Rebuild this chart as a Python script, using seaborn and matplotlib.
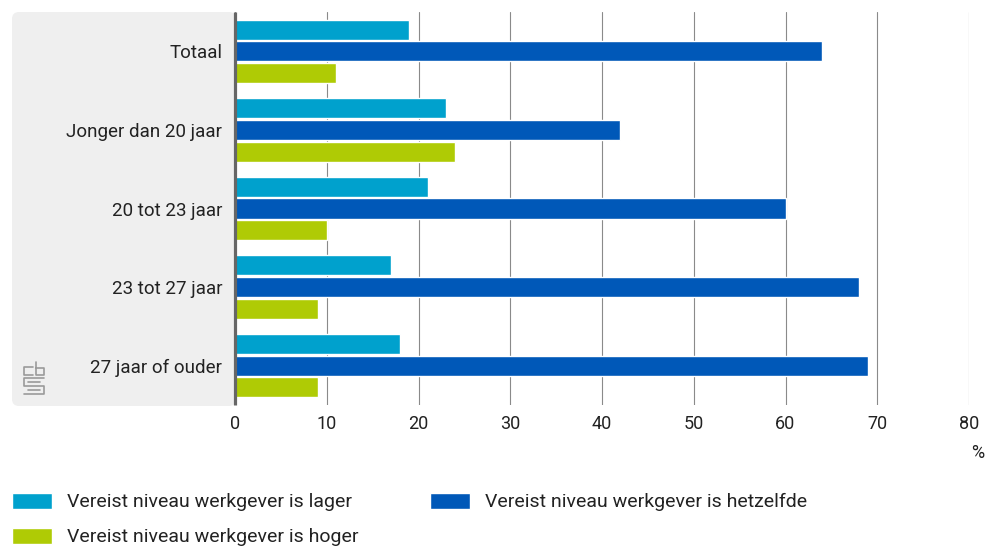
import matplotlib
matplotlib.use("Agg")
import matplotlib.pyplot as plt
import seaborn as sns
import pandas as pd
from matplotlib.patches import FancyBboxPatch, Patch
from matplotlib.transforms import IdentityTransform
from matplotlib.lines import Line2D

categories = ["Totaal", "Jonger dan 20 jaar", "20 tot 23 jaar", "23 tot 27 jaar", "27 jaar of ouder"]
series = ["Vereist niveau werkgever is lager",
          "Vereist niveau werkgever is hetzelfde",
          "Vereist niveau werkgever is hoger"]
lager = [19, 23, 21, 17, 18]
hetzelfde = [64, 42, 60, 68, 69]
hoger = [11, 24, 10, 9, 9]
colors = ["#00A1CD", "#0058B8", "#AFCB05"]
xticks = [0, 10, 20, 30, 40, 50, 60, 70, 80]

rows = []
for s, vals in zip(series, [lager, hetzelfde, hoger]):
    for c, v in zip(categories, vals):
        rows.append({"cat": c, "serie": s, "value": v})
df = pd.DataFrame(rows)

sns.set_theme(style="white")
plt.rcParams["font.family"] = ["Roboto", "DejaVu Sans"]
W, H = 992, 552
fig = plt.figure(figsize=(W / 100, H / 100), dpi=100)

# grey label panel
panel = FancyBboxPatch((12, H - 406), 236 - 12, 406 - 12,
                       boxstyle="round,pad=0,rounding_size=7",
                       transform=IdentityTransform(), facecolor="#EFEFEF",
                       edgecolor="none", zorder=-5)
fig.patches.append(panel)

ax = fig.add_axes([235 / W, 1 - 405 / H, (969 - 235) / W, (405 - 12) / H])
ax.set_facecolor("none")
sns.barplot(data=df, y="cat", x="value", hue="serie", order=categories,
            hue_order=series, palette=colors, orient="h", width=0.83,
            gap=0.08, saturation=1, legend=False, ax=ax, zorder=3)

ax.set_xlim(0, 80)
ax.set_xticks(xticks)
ax.set_xlabel("")
ax.set_ylabel("")
ax.grid(axis="x", color="#8a8a8a", linewidth=0.8, zorder=0)
ax.grid(axis="y", visible=False)
ax.set_axisbelow(True)
for side in ["top", "right", "bottom"]:
    ax.spines[side].set_visible(False)
ax.spines["left"].set_color("#666666")
ax.spines["left"].set_linewidth(2.3)
ax.spines["left"].set_capstyle("butt")
ax.spines["left"].set_zorder(5)
ax.tick_params(axis="x", length=0, pad=7, labelsize=13, labelcolor="#222222")
ax.tick_params(axis="y", length=0, pad=9, labelsize=13.5, labelcolor="#222222")

fig.text(978 / W, 1 - 453 / H, "%", ha="center", va="center", fontsize=13, color="#222222")

# cbs logo (approximation)
lc = "#9a9a9a"
def pl(xs, ys):
    fig.add_artist(Line2D(xs, [H - y for y in ys], transform=IdentityTransform(),
                          color=lc, linewidth=1.2))
pl([33, 24, 24, 33], [367, 367, 375, 375])
pl([36, 36, 44, 44, 36], [362, 375, 375, 368, 368])
pl([44, 24, 24, 44, 44, 24], [378, 378, 386, 386, 394, 394])
pl([40, 28], [382, 382])
pl([28, 40], [390, 390])

fs = 14
h_l = [Patch(facecolor=colors[0]), Patch(facecolor=colors[2])]
leg1 = fig.legend(h_l, [series[0], series[2]], loc="upper left",
                  bbox_to_anchor=(12 / W, 1 - 493 / H), frameon=False,
                  fontsize=fs, handlelength=2.05, handleheight=0.85,
                  handletextpad=0.8, labelspacing=0.85, borderpad=0,
                  borderaxespad=0, labelcolor="#222222")
leg2 = fig.legend([Patch(facecolor=colors[1])], [series[1]], loc="upper left",
                  bbox_to_anchor=(430 / W, 1 - 493 / H), frameon=False,
                  fontsize=fs, handlelength=2.05, handleheight=0.85,
                  handletextpad=0.8, borderpad=0, borderaxespad=0,
                  labelcolor="#222222")

fig.savefig("out.png", dpi=100)
